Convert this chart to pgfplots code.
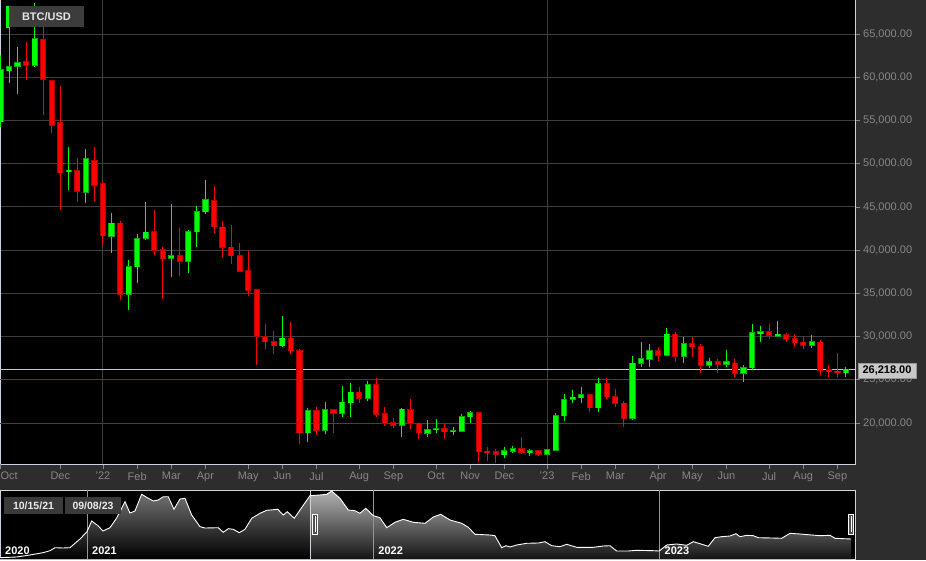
\documentclass[border=0pt]{standalone}
\usepackage{pgfplots}
\pgfplotsset{compat=1.18}
\usepackage{pgfplotstable}
\usepackage{fontspec}
\setmainfont{Liberation Sans}
\definecolor{bg}{RGB}{45,45,45}
\definecolor{gridc}{RGB}{62,62,62}
\definecolor{framec}{RGB}{205,210,225}
\definecolor{lblc}{RGB}{135,135,135}
\definecolor{upc}{RGB}{0,255,0}
\definecolor{upo}{RGB}{0,170,0}
\definecolor{dnc}{RGB}{255,0,0}
\definecolor{dno}{RGB}{180,0,0}
\definecolor{linered}{RGB}{215,0,0}
\definecolor{boxc}{RGB}{60,60,60}
\definecolor{datebox}{RGB}{58,58,58}
\definecolor{tagc}{RGB}{200,200,200}
\definecolor{yearc}{RGB}{150,150,150}
\newcommand\lf{\fontsize{11}{13}\selectfont}
\newcommand\smf{\fontsize{10.5}{12}\selectfont}
\pgfplotsset{candle/.style={draw=none, no markers, forget plot,
  error bars/.cd, y dir=both, y explicit, error mark=none}}

% weekly candles, index 0 = week of 10/15/21
\pgfplotstableread{
i o h l c
0 54857 62574 54244 60839
1 60758 66044 59300 61221
2 61267 63533 58062 61649
4 61383 68626 61221 64424
8 49150 51895 46955 49230
10 46690 51665 45487 50542
13 41634 44260 39702 43103
15 34924 38857 33073 38083
16 38083 41866 36231 41287
17 41368 45533 41171 42062
20 39050 45302 36925 39320
22 38741 42328 37389 42131
23 42131 45104 40396 44445
24 44445 48113 44144 45799
33 28943 32379 28758 29799
36 18878 21770 17837 21388
38 19190 22395 18727 21504
40 21122 24281 20659 22395
41 22349 24593 20659 23552
43 22858 24859 22580 24396
47 19769 21770 18415 21585
50 18843 20347 18346 19190
51 19225 20463 18804 19341
53 18994 19572 18577 19109
54 19075 21006 18994 20729
55 20729 21388 19965 21192
59 16333 17258 15916 16795
60 16761 17339 16495 17027
62 16645 16992 16217 16761
64 16414 16992 16298 16876
65 16876 21122 16761 20845
66 20845 23320 20266 22661
67 22742 23818 22279 22973
68 22927 24130 22349 23239
70 21770 25171 21307 24512
74 20543 27751 20347 26907
75 26907 29371 26513 27404
76 27404 29105 26444 28364
78 27867 30955 27751 30262
80 27751 29914 26907 29140
83 26710 27555 26328 27057
85 26791 28445 26444 27057
87 25750 26675 24709 26398
88 26398 31453 26132 30447
89 30377 31222 29406 30562
91 30065 31800 29984 30262
95 29024 30181 28642 29406
99 25819 26444 25287 26218
}\upcandles

\pgfplotstableread{
i o h l c
3 61800 64111 59682 61383
5 64309 66044 55633 59762
6 59600 59682 53515 54475
7 54745 58988 44642 48960
9 49189 50623 45533 46840
11 50311 51895 45683 47535
12 47650 47917 40593 41669
14 43103 43369 34230 34924
18 42131 44642 39436 40014
19 40014 40326 34311 39007
21 39320 42525 37006 38741
25 45719 47419 42016 42710
26 42633 43369 39170 40326
27 40326 42907 38395 39355
28 39355 40789 37470 37550
29 37585 39933 34693 35387
30 35387 35468 26710 30065
31 29984 31453 28526 29406
32 29371 30643 27948 28943
34 29799 31650 27983 28364
35 28330 28526 17536 18878
37 21388 21816 18612 19190
39 21504 21585 18804 21122
42 23552 24130 22279 22858
44 24396 25241 20659 21041
45 21041 21816 19688 19965
46 20000 20543 19456 19734
48 21504 22742 19271 19965
49 19965 19965 18114 18878
52 19306 19850 18114 18994
56 21192 21307 15523 16680
57 16726 17258 15639 16610
58 16680 16957 15338 16379
61 16992 18346 16448 16610
63 16761 16876 16217 16414
69 23239 23355 21307 21770
71 24512 25171 22742 23043
72 23043 23899 21886 22279
73 22279 22580 19502 20543
77 28364 28758 27173 27867
79 30262 30562 27092 27751
81 29140 29914 27670 28827
82 28827 29105 25750 26710
84 27057 27370 25750 26791
86 26907 27370 25287 25750
90 30562 31453 29683 30181
92 30181 30447 29406 29718
93 29718 30296 28758 29290
94 29336 29914 28526 29024
96 29336 29602 25553 26132
97 26132 26710 25287 25981
98 25981 28132 25287 25819
}\downcandles

% navigator: days since 2021-01-01, price
\pgfplotstableread{
d p
-110.9 11086
-89.6 11652
-72.7 13268
-56.1 15126
-47.2 16742
-40.8 19166
-30.6 18924
-21.7 19166
-8.9 26196
0 32094
6.0 40740
14.0 36942
20.4 32660
29.3 35326
37.9 43164
48.5 56334
54.8 47204
61.2 48820
69.7 62314
76.1 59890
84.5 56900
90.9 57708
97.3 60374
103.7 60374
110.9 50194
118.6 58516
125.0 59082
133.5 45588
144.1 36134
150.5 35084
167.4 35326
173.8 31610
180.2 34518
186.5 34034
194.2 31286
201.5 34034
210.0 42922
220.6 46962
229.1 49386
243.2 50194
250.3 45588
255.4 48254
264.3 42922
284.3 61182
297.1 61748
305.6 62314
312.0 64980
322.6 59082
333.2 49628
341.7 49063
348.1 46962
355.4 51002
365.1 45022
373.6 43406
382.2 35326
392.7 39690
403.3 42114
416.1 39690
431.0 38882
441.6 43972
451.0 46154
462.9 41548
477.8 38882
486.3 35650
494.7 29994
513.9 29428
520.2 28862
528.8 19166
534.3 20782
539.4 19732
547.9 21348
560.7 22722
575.5 22964
584.0 24014
592.6 20782
603.1 19974
611.7 21914
624.4 19490
645.6 19490
658.4 20540
666.9 20782
675.4 16500
690.2 16500
700.9 17066
722.1 16742
729.7 16500
739.2 21348
751.9 22156
764.7 21106
773.1 24014
781.6 22398
792.2 20298
800.8 27246
809.3 28054
819.9 28620
827.5 30478
832.6 28054
841.2 29186
849.6 28862
856.0 27246
873.1 27004
885.8 26762
896.4 30802
909.2 30236
934.7 28862
947.4 29186
953.8 26762
974.2 26196
}\navdata

\begin{document}
\begin{tikzpicture}
\useasboundingbox (0pt,0pt) rectangle (926pt,560pt);
\fill[bg] (0pt,0pt) rectangle (926pt,560pt);

% ---------------- main candlestick chart ----------------
\begin{axis}[
  at={(0pt,96pt)}, anchor=south west, scale only axis,
  width=855pt, height=464pt,
  xmin=-0.06, xmax=100.06, ymin=15257, ymax=68937,
  axis background/.style={fill=black},
  axis line style={draw=framec, line width=1pt},
  ytick={20000,25000,30000,35000,40000,45000,50000,55000,60000,65000},
  ytick pos=right, yticklabel pos=right, xtick pos=bottom,
  tick align=outside, major tick length=5pt,
  tick style={draw=lblc, line width=0.8pt},
  ymajorgrids, major grid style={draw=gridc, line width=1pt},
  scaled y ticks=false,
  yticklabel style={font=\lf, text=lblc, anchor=west, inner sep=0pt, xshift=3pt,
    /pgf/number format/.cd, fixed, fixed zerofill, precision=2, 1000 sep={,}, assume math mode=true},
  xtick={7,12,16,20,24,29,33,37,42,46,51,55,59,64,68,72,77,81,85,90,94,98},
  xticklabels={Dec,'22,Feb,Mar,Apr,May,Jun,Jul,Aug,Sep,Oct,Nov,Dec,'23,Feb,Mar,Apr,May,Jun,Jul,Aug,Sep},
  xticklabel style={font=\lf, text=lblc, anchor=north, inner sep=0pt, yshift=-3pt},
  extra x ticks={0}, extra x tick labels={\makebox[0pt][l]{Oct}},
]
% vertical year gridlines
\addplot[draw=gridc, line width=1pt] coordinates {(12,15257) (12,68937)};
\addplot[draw=gridc, line width=1pt] coordinates {(64,15257) (64,68937)};
% red horizontal levels
\addplot[draw=linered, line width=1pt] coordinates {(-0.06,25000) (100.06,25000)};
\addplot[draw=linered, line width=1pt] coordinates {(-0.06,20000) (100.06,20000)};
% last price line
\addplot[draw=tagc, line width=1pt] coordinates {(-0.06,26218) (100.06,26218)};

% wicks
\addplot[candle, error bar style={solid, draw=upc, line width=1pt}]
  table[x=i, y expr={(\thisrow{h}+\thisrow{l})/2}, y error expr={(\thisrow{h}-\thisrow{l})/2}] {\upcandles};
\addplot[candle, error bar style={solid, draw=dnc, line width=1pt}]
  table[x=i, y expr={(\thisrow{h}+\thisrow{l})/2}, y error expr={(\thisrow{h}-\thisrow{l})/2}] {\downcandles};
% body outlines
\addplot[candle, error bar style={solid, draw=upo, line width=6.2pt}]
  table[x=i, y expr={(\thisrow{o}+\thisrow{c})/2}, y error expr={abs(\thisrow{c}-\thisrow{o})/2+60}] {\upcandles};
\addplot[candle, error bar style={solid, draw=dno, line width=6.2pt}]
  table[x=i, y expr={(\thisrow{o}+\thisrow{c})/2}, y error expr={abs(\thisrow{c}-\thisrow{o})/2+60}] {\downcandles};
% body fills
\addplot[candle, error bar style={solid, draw=upc, line width=4.4pt}]
  table[x=i, y expr={(\thisrow{o}+\thisrow{c})/2}, y error expr={abs(\thisrow{c}-\thisrow{o})/2}] {\upcandles};
\addplot[candle, error bar style={solid, draw=dnc, line width=4.4pt}]
  table[x=i, y expr={(\thisrow{o}+\thisrow{c})/2}, y error expr={abs(\thisrow{c}-\thisrow{o})/2}] {\downcandles};
\end{axis}

% ---------------- navigator ----------------
\begin{axis}[
  at={(0pt,1pt)}, anchor=south west, scale only axis,
  width=855pt, height=69pt,
  xmin=-110.9, xmax=979.3, ymin=10036, ymax=65788,
  axis background/.style={fill=black},
  axis line style={draw=framec, line width=1pt},
  ticks=none,
]
\addplot[draw=none, top color={rgb,255:red,112;green,112;blue,112}, bottom color=black,
  restrict x to domain=-200:284.3] table[x=d, y=p] {\navdata} \closedcycle;
\addplot[draw=none, top color={rgb,255:red,178;green,178;blue,178}, bottom color={rgb,255:red,20;green,20;blue,20},
  restrict x to domain=284.3:1000] table[x=d, y=p] {\navdata} \closedcycle;
\addplot[draw=yearc, line width=0.8pt] coordinates {(0,10036) (0,65788)};
\addplot[draw=yearc, line width=0.8pt] coordinates {(365,10036) (365,65788)};
\addplot[draw=yearc, line width=0.8pt] coordinates {(730,10036) (730,65788)};
\addplot[draw=framec, line width=0.8pt] coordinates {(284.3,10036) (284.3,65788)};
\addplot[draw=white, line width=0.9pt] table[x=d, y=p] {\navdata};
\node[anchor=south west, inner sep=0pt, font=\lf\bfseries, text=white, xshift=5pt, yshift=4pt] at (axis cs:-110.9,10036) {2020};
\node[anchor=south west, inner sep=0pt, font=\lf\bfseries, text=white, xshift=5pt, yshift=4pt] at (axis cs:0,10036) {2021};
\node[anchor=south west, inner sep=0pt, font=\lf\bfseries, text=white, xshift=5pt, yshift=4pt] at (axis cs:365,10036) {2022};
\node[anchor=south west, inner sep=0pt, font=\lf\bfseries, text=white, xshift=5pt, yshift=4pt] at (axis cs:730,10036) {2023};
\end{axis}

% navigator handles
\draw[white, fill={rgb,255:red,80;green,80;blue,80}, line width=0.8pt] (312.5pt,26pt) rectangle (317.5pt,46pt);
\draw[white, line width=0.8pt] (315pt,28pt) -- (315pt,44pt);
\draw[white, fill={rgb,255:red,80;green,80;blue,80}, line width=0.8pt] (848.5pt,26pt) rectangle (853.5pt,46pt);
\draw[white, line width=0.8pt] (851pt,28pt) -- (851pt,44pt);

% navigator date boxes
\fill[datebox] (4pt,46pt) rectangle (63pt,63pt);
\node[font=\smf\bfseries, text=white!92!black, inner sep=0pt] at (33.5pt,54.5pt) {10/15/21};
\fill[datebox] (65pt,46pt) rectangle (121pt,63pt);
\node[font=\smf\bfseries, text=white!92!black, inner sep=0pt] at (93pt,54.5pt) {09/08/23};

% series label
\fill[upc] (6pt,532pt) rectangle (9pt,554pt);
\fill[boxc] (9pt,533pt) rectangle (84pt,554pt);
\node[font=\lf\bfseries, text=white!90!black, inner sep=0pt] at (46.5pt,543.5pt) {BTC/USD};

% last price tag
\draw[fill=tagc, draw={rgb,255:red,150;green,150;blue,150}, line width=0.6pt] (858pt,182pt) rectangle (916pt,197pt);
\node[font=\lf\bfseries, text=black, inner sep=0pt] at (887pt,189.5pt) {26,218.00};
\end{tikzpicture}
\end{document}
